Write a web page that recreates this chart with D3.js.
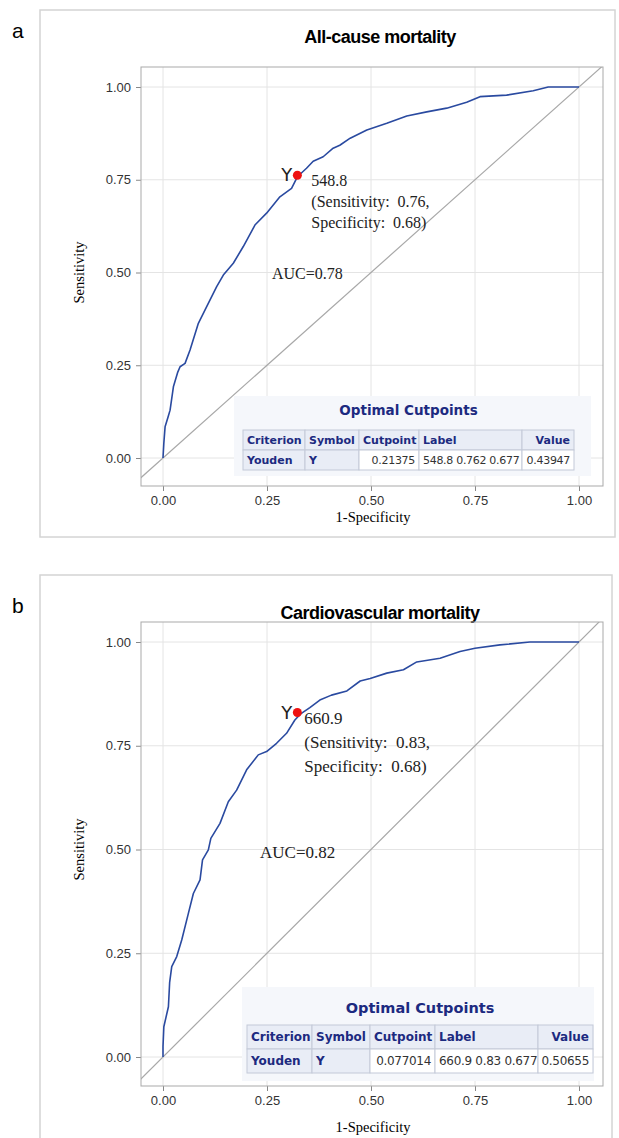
<!DOCTYPE html>
<html>
<head>
<meta charset="utf-8">
<script src="https://cdn.jsdelivr.net/npm/d3@7"></script>
<style>
  body { margin: 0; background: #fff; }
  svg text { white-space: pre; }
</style>
</head>
<body>
<div id="chart"></div>
<script>
// ROC curve points (1-specificity, sensitivity)
const allCauseFpr = [0, 0.002, 0.005, 0.012, 0.017, 0.025, 0.035, 0.041, 0.053, 0.065, 0.085, 0.105, 0.129, 0.145, 0.169, 0.193, 0.221, 0.249, 0.281, 0.309, 0.323, 0.345, 0.361, 0.385, 0.409, 0.425, 0.450, 0.490, 0.538, 0.586, 0.634, 0.682, 0.730, 0.762, 0.826, 0.890, 0.926, 1];
const allCauseTpr = [0, 0.040, 0.084, 0.110, 0.129, 0.192, 0.230, 0.246, 0.255, 0.291, 0.363, 0.408, 0.462, 0.493, 0.525, 0.570, 0.628, 0.660, 0.704, 0.727, 0.758, 0.781, 0.800, 0.812, 0.835, 0.843, 0.862, 0.884, 0.902, 0.922, 0.933, 0.943, 0.959, 0.974, 0.978, 0.990, 1, 1];

const cardioFpr = [0, 0, 0.002, 0.013, 0.016, 0.021, 0.033, 0.045, 0.061, 0.073, 0.089, 0.095, 0.109, 0.115, 0.137, 0.157, 0.177, 0.201, 0.229, 0.249, 0.273, 0.297, 0.317, 0.330, 0.353, 0.377, 0.405, 0.442, 0.474, 0.498, 0.538, 0.578, 0.610, 0.666, 0.714, 0.750, 0.810, 0.882, 1];
const cardioTpr = [0, 0.025, 0.073, 0.121, 0.180, 0.218, 0.242, 0.282, 0.346, 0.394, 0.427, 0.475, 0.499, 0.527, 0.563, 0.615, 0.643, 0.692, 0.728, 0.736, 0.756, 0.780, 0.812, 0.826, 0.842, 0.860, 0.872, 0.882, 0.906, 0.912, 0.925, 0.933, 0.952, 0.961, 0.977, 0.985, 0.993, 1, 1];

const tickValues = [0, 0.25, 0.5, 0.75, 1];
const tableHeaders = ["Criterion", "Symbol", "Cutpoint", "Label", "Value"];
const allCauseRow = ["Youden", "Y", "0.21375", "548.8 0.762 0.677", "0.43947"];
const cardioRow = ["Youden", "Y", "0.077014", "660.9 0.83 0.677", "0.50655"];
const allCauseCut = { fpr: 0.323, tpr: 0.762, value: "548.8", sens: "0.76", spec: "0.68", auc: "0.78" };
const cardioCut = { fpr: 0.323, tpr: 0.830, value: "660.9", sens: "0.83", spec: "0.68", auc: "0.82" };

const W = 619, H = 1138;
const sans = "'Liberation Sans', Arial, sans-serif";
const serif = "'Liberation Serif', 'Times New Roman', serif";
const navy = "#1c2a80";

const svg = d3.select("#chart").append("svg")
  .attr("width", W).attr("height", H);

const panels = [
  {
    id: "a", title: "All-cause mortality", fpr: allCauseFpr, tpr: allCauseTpr,
    cut: allCauseCut, row: allCauseRow,
    frame: [40, 10, 575, 527], letterY: 38, titleY: 43,
    plot: [141, 67, 603, 486], xr: [163, 579], yr: [458, 87],
    xLabelY: 522, fs: 16, lineH: 21, aucX: 272, aucY: 279, textDx: 14,
    table: { box: [234, 396, 357, 80], titleY: 415, top: 430, rowH: 20, fs: 11, cols: [243, 305, 359, 419, 522, 574] }
  },
  {
    id: "b", title: "Cardiovascular mortality", fpr: cardioFpr, tpr: cardioTpr,
    cut: cardioCut, row: cardioRow,
    frame: [40, 575, 572, 600], letterY: 613, titleY: 619,
    plot: [141, 622, 603, 1086], xr: [163, 579], yr: [1057, 642],
    xLabelY: 1132, fs: 17, lineH: 24, aucX: 260, aucY: 858, textDx: 7,
    table: { box: [242, 987, 352, 94], titleY: 1013, top: 1025, rowH: 24, fs: 12, cols: [247, 312, 370, 435, 538, 593] }
  }
];

panels.forEach(p => {
  const g = svg.append("g");
  const [px0, py0, px1, py1] = p.plot;

  // outer frame
  g.append("rect")
    .attr("x", p.frame[0]).attr("y", p.frame[1])
    .attr("width", p.frame[2]).attr("height", p.frame[3])
    .attr("fill", "none").attr("stroke", "#d4d4d4").attr("stroke-width", 1.5);

  g.append("text").attr("x", 12).attr("y", p.letterY)
    .attr("font-family", sans).attr("font-size", 21).text(p.id);

  g.append("text").attr("x", 380).attr("y", p.titleY)
    .attr("text-anchor", "middle").attr("font-family", sans)
    .attr("font-weight", "bold").attr("font-size", 18)
    .attr("letter-spacing", -0.5).text(p.title);

  const x = d3.scaleLinear().domain([0, 1]).range(p.xr);
  const y = d3.scaleLinear().domain([0, 1]).range(p.yr);

  // gridlines
  g.append("g").selectAll("line").data(tickValues).join("line")
    .attr("x1", d => x(d)).attr("x2", d => x(d))
    .attr("y1", py0).attr("y2", py1)
    .attr("stroke", "#e4e4e4");
  g.append("g").selectAll("line").data(tickValues).join("line")
    .attr("y1", d => y(d)).attr("y2", d => y(d))
    .attr("x1", px0).attr("x2", px1)
    .attr("stroke", "#e4e4e4");

  // axes
  const fmt = d3.format(".2f");
  const yAxis = g.append("g").attr("transform", `translate(${px0},0)`)
    .call(d3.axisLeft(y).tickValues(tickValues).tickFormat(fmt).tickSize(5).tickPadding(5));
  const xAxis = g.append("g").attr("transform", `translate(0,${py1})`)
    .call(d3.axisBottom(x).tickValues(tickValues).tickFormat(fmt).tickSize(5).tickPadding(5));
  [xAxis, yAxis].forEach(a => {
    a.select(".domain").remove();
    a.selectAll(".tick line").attr("stroke", "#888");
    a.selectAll("text").attr("font-family", sans).attr("font-size", 13).attr("fill", "#333");
  });

  // clip to plot area
  const clipId = "clip-" + p.id;
  g.append("clipPath").attr("id", clipId)
    .append("rect").attr("x", px0).attr("y", py0)
    .attr("width", px1 - px0).attr("height", py1 - py0);

  // reference diagonal
  g.append("line")
    .attr("x1", x(-0.2)).attr("y1", y(-0.2))
    .attr("x2", x(1.2)).attr("y2", y(1.2))
    .attr("stroke", "#a8a8a8").attr("stroke-width", 1.2)
    .attr("clip-path", `url(#${clipId})`);

  // ROC curve
  const pts = p.fpr.map((f, i) => [f, p.tpr[i]]);
  g.append("path").datum(pts)
    .attr("d", d3.line().x(d => x(d[0])).y(d => y(d[1])))
    .attr("fill", "none").attr("stroke", "#2a4aa0").attr("stroke-width", 1.6)
    .attr("stroke-linejoin", "round");

  // plot border
  g.append("rect").attr("x", px0).attr("y", py0)
    .attr("width", px1 - px0).attr("height", py1 - py0)
    .attr("fill", "none").attr("stroke", "#a9a9a9");

  // axis labels
  g.append("text").attr("x", (px0 + px1) / 2 + 1).attr("y", p.xLabelY)
    .attr("text-anchor", "middle").attr("font-family", serif).attr("font-size", 14.5)
    .text("1-Specificity");
  g.append("text")
    .attr("transform", `translate(84,${y(0.5)}) rotate(-90)`)
    .attr("text-anchor", "middle").attr("font-family", serif).attr("font-size", 14.5)
    .text("Sensitivity");

  // optimal cutpoint marker and annotation
  const cx = x(p.cut.fpr), cy = y(p.cut.tpr);
  g.append("circle").attr("cx", cx).attr("cy", cy).attr("r", 4.5).attr("fill", "#ee1111");
  g.append("text").attr("x", cx - 5).attr("y", cy + 6)
    .attr("text-anchor", "end").attr("font-family", "'DejaVu Sans', sans-serif")
    .attr("font-size", 18).attr("fill", "#222").text("Y");
  const ann = g.append("text").attr("font-family", serif).attr("font-size", p.fs).attr("fill", "#222");
  [p.cut.value, `(Sensitivity:  ${p.cut.sens},`, `Specificity:  ${p.cut.spec})`].forEach((t, i) => {
    ann.append("tspan").attr("x", cx + p.textDx).attr("y", cy + 11 + i * p.lineH).text(t);
  });
  g.append("text").attr("x", p.aucX).attr("y", p.aucY)
    .attr("font-family", serif).attr("font-size", p.fs).attr("fill", "#222")
    .text(`AUC=${p.cut.auc}`);

  // Optimal Cutpoints table
  const t = p.table;
  g.append("rect").attr("x", t.box[0]).attr("y", t.box[1])
    .attr("width", t.box[2]).attr("height", t.box[3]).attr("fill", "#f5f7fb");
  g.append("text").attr("x", (t.cols[0] + t.cols[5]) / 2).attr("y", t.titleY)
    .attr("text-anchor", "middle").attr("font-family", "'DejaVu Sans', sans-serif")
    .attr("font-weight", "bold").attr("font-size", t.fs + 2.5).attr("fill", navy)
    .text("Optimal Cutpoints");

  const align = ["start", "start", "end", "start", "end"];
  const headAlign = ["start", "start", "start", "start", "end"];
  const rows = [tableHeaders, p.row];
  rows.forEach((r, ri) => {
    const ry = t.top + ri * t.rowH;
    r.forEach((val, ci) => {
      const c0 = t.cols[ci], c1 = t.cols[ci + 1];
      const isHead = ri === 0 || ci < 2;
      g.append("rect").attr("x", c0).attr("y", ry)
        .attr("width", c1 - c0).attr("height", t.rowH)
        .attr("fill", isHead ? "#e9edf6" : "#ffffff")
        .attr("stroke", "#c3c9d8").attr("stroke-width", 1);
      const a = ri === 0 ? headAlign[ci] : align[ci];
      g.append("text")
        .attr("x", a === "end" ? c1 - 4 : c0 + 4)
        .attr("y", ry + t.rowH / 2 + t.fs * 0.36)
        .attr("text-anchor", a)
        .attr("font-family", "'DejaVu Sans', sans-serif")
        .attr("font-size", t.fs)
        .attr("font-weight", isHead ? "bold" : "normal")
        .attr("fill", isHead ? navy : "#333")
        .attr("letter-spacing", isHead ? 0 : -0.3)
        .text(val);
    });
  });
});
</script>
</body>
</html>
